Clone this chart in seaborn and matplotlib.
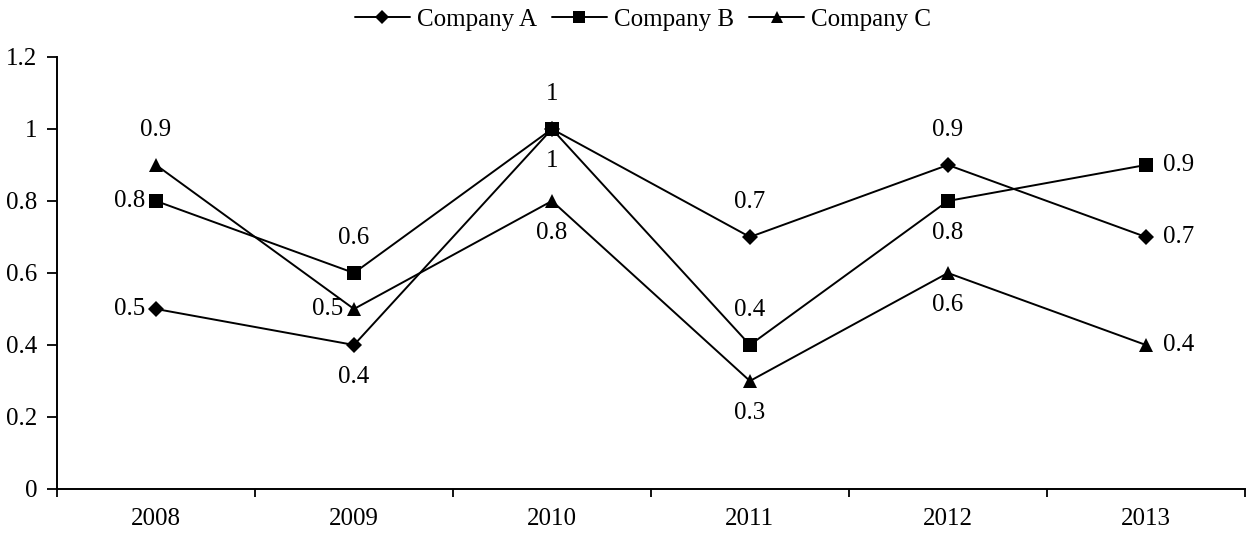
import pandas as pd
import matplotlib.pyplot as plt
import seaborn as sns

# === Données ===
years = [2008, 2009, 2010, 2011, 2012, 2013]
company_a = [0.5, 0.4, 1.0, 0.7, 0.9, 0.7]
company_b = [0.8, 0.6, 1.0, 0.4, 0.8, 0.9]
company_c = [0.9, 0.5, 0.8, 0.3, 0.6, 0.4]
series_names = ["Company A", "Company B", "Company C"]

# position des étiquettes (l=gauche, r=droite, a=au-dessus, b=en dessous)
label_pos = {
    "Company A": ["l", "b", "b", "a", "a", "r"],
    "Company B": ["l", "a", "a", "a", "b", "r"],
    "Company C": ["a", "l", "b", "b", "b", "r"],
}

df = pd.DataFrame({
    "year": years * 3,
    "value": company_a + company_b + company_c,
    "company": [n for n in series_names for _ in years],
})

# === Style ===
sns.set_theme(style="white")
plt.rcParams["font.family"] = ["Liberation Serif", "DejaVu Serif"]
plt.rcParams["text.color"] = "black"
plt.rcParams["xtick.color"] = "black"
plt.rcParams["ytick.color"] = "black"
fs = 18

fig = plt.figure(figsize=(12.53, 5.33), dpi=100)
ax = fig.add_axes([0.0455, 0.0826, 0.948, 0.8105])

markers = {"Company A": "D", "Company B": "s", "Company C": "^"}
sizes = {"Company A": 8, "Company B": 9.5, "Company C": 10}
sns.lineplot(data=df, x="year", y="value", hue="company", style="company",
             palette=["black"] * 3, markers=markers, dashes=False,
             linewidth=1.4, markeredgewidth=0, ax=ax, legend=False)
for line, name in zip(ax.lines, series_names):
    line.set_markersize(sizes[name])

# === Étiquettes de valeurs ===
offsets = {"l": ((-8, 0), "right", "center"), "r": ((12, 0), "left", "center"),
           "a": ((0, 25), "center", "center"), "b": ((0, -23), "center", "center")}
for name in series_names:
    sub = df[df["company"] == name]
    for (x, y), p in zip(sub[["year", "value"]].values, label_pos[name]):
        off, ha, va = offsets[p]
        ax.annotate(f"{y:g}", (x, y), xytext=off, textcoords="offset points",
                    ha=ha, va=va, fontsize=fs)

# === Axes ===
ax.set_xlim(years[0] - 0.5, years[-1] + 0.5)
ax.set_ylim(0, 1.2)
ax.set_yticks([0, 0.2, 0.4, 0.6, 0.8, 1.0, 1.2])
ax.set_yticklabels(["0", "0.2", "0.4", "0.6", "0.8", "1", "1.2"])
ax.set_xticks(years)
ax.set_xticklabels([str(y) for y in years])
ax.set_xticks([y - 0.5 for y in years] + [years[-1] + 0.5], minor=True)
ax.tick_params(axis="x", which="major", length=0, pad=14, labelsize=fs)
ax.tick_params(axis="x", which="minor", length=6, width=1.3, direction="out", bottom=True)
ax.tick_params(axis="y", length=7, width=1.3, direction="out", left=True,
               labelsize=fs, pad=7)
ax.set_xlabel("")
ax.set_ylabel("")
for s in ["top", "right"]:
    ax.spines[s].set_visible(False)
for s in ["left", "bottom"]:
    ax.spines[s].set_color("black")
    ax.spines[s].set_linewidth(1.4)
ax.grid(False)

# === Légende ===
handles = [plt.Line2D([], [], color="black", lw=1.4, marker=markers[n],
                      markersize=sizes[n] * 0.9, markeredgewidth=0) for n in series_names]
fig.legend(handles, series_names, loc="center left", bbox_to_anchor=(0.2833, 0.9625), ncol=3,
           frameon=False, fontsize=fs, handlelength=2.2, handletextpad=0.28,
           columnspacing=0.6, borderpad=0, borderaxespad=0)

plt.savefig("out.png", dpi=100)
